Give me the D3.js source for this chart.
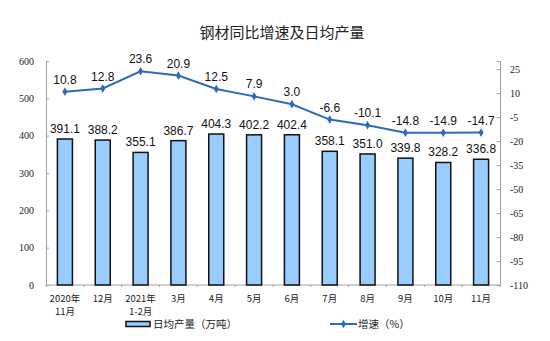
<!DOCTYPE html>
<html><head><meta charset="utf-8">
<script src="https://cdn.jsdelivr.net/npm/d3@7"></script>
<style>body{margin:0;background:#fff}svg{display:block}</style>
</head><body>
<svg id="c" width="550" height="341"></svg>
<script>
const categories = [["2020年","11月"],["12月"],["2021年","1-2月"],["3月"],["4月"],["5月"],["6月"],["7月"],["8月"],["9月"],["10月"],["11月"]];
const output = [391.1,388.2,355.1,386.7,404.3,402.2,402.4,358.1,351.0,339.8,328.2,336.8];
const growth = [10.8,12.8,23.6,20.9,12.5,7.9,3.0,-6.6,-10.1,-14.8,-14.9,-14.7];
const leftTicks = [0,100,200,300,400,500,600];
const rightTicks = [25,10,-5,-20,-35,-50,-65,-80,-95,-110];
const title = "钢材同比增速及日均产量";
const legendBar = "日均产量（万吨）";
const legendLine = "增速（%）";

const svg = d3.select("#c");
const L = 46, R = 500, T = 61, B = 285;
const xc = i => L + (i + 0.5) * (R - L) / categories.length;
const yL = d3.scaleLinear().domain([0, 600]).range([B, T]);
const yR = d3.scaleLinear().domain([-110, 30]).range([B, T]);
const lineColor = "#2b6bbf";
const serif = "'Liberation Serif','DejaVu Serif',serif";
const cjk = "'Noto Sans CJK SC',sans-serif";

svg.append("text").attr("x", 282).attr("y", 38).attr("text-anchor", "middle")
  .style("font-family", cjk).style("font-size", "15px").attr("fill", "#222").text(title);

// axes
const axL = svg.append("g").attr("transform", `translate(${L},0)`)
  .call(d3.axisLeft(yL).tickValues(leftTicks).tickSize(-3).tickPadding(12).tickFormat(d3.format("d")));
const axR = svg.append("g").attr("transform", `translate(${R},0)`)
  .call(d3.axisRight(yR).tickValues(rightTicks.concat([30])).tickSize(-3).tickPadding(10).tickFormat(d => d === 30 ? "" : d));
[axL, axR].forEach(a => {
  a.select(".domain").attr("stroke", "#a0a0a0");
  a.selectAll(".tick line").attr("stroke", "#a0a0a0");
  a.selectAll("text").style("font-family", serif).style("font-size", "10px").attr("fill", "#222");
});
svg.append("line").attr("x1", L).attr("x2", R).attr("y1", B).attr("y2", B).attr("stroke", "#a0a0a0");
svg.selectAll(".xt").data(d3.range(categories.length + 1)).enter().append("line")
  .attr("x1", i => L + i * (R - L) / categories.length).attr("x2", i => L + i * (R - L) / categories.length)
  .attr("y1", B).attr("y2", B + 2).attr("stroke", "#a0a0a0");

// x labels
const xl = svg.selectAll(".xl").data(categories).enter().append("text")
  .attr("text-anchor", "middle").style("font-family", cjk).style("font-size", "9.5px").attr("fill", "#222");
xl.each(function(d, i) {
  d3.select(this).selectAll("tspan").data(d).enter().append("tspan")
    .attr("x", xc(i)).attr("y", (t, j) => 302 + j * 13).text(t => t);
});

// bars
svg.selectAll(".bar").data(output).enter().append("rect")
  .attr("x", (d, i) => xc(i) - 7.5).attr("width", 15)
  .attr("y", d => yL(d)).attr("height", d => B - yL(d))
  .attr("fill", "#99ccff").attr("stroke", "#111").attr("stroke-width", 1.5);
svg.selectAll(".bl").data(output).enter().append("text")
  .attr("x", (d, i) => xc(i)).attr("y", d => yL(d) - 6).attr("text-anchor", "middle")
  .style("font-family", "'Liberation Sans',Arial,sans-serif").style("font-size", "12px").attr("fill", "#111")
  .text(d => d.toFixed(1));

// line
const line = d3.line().x((d, i) => xc(i)).y(d => yR(d));
svg.append("path").datum(growth).attr("d", line).attr("fill", "none").attr("stroke", lineColor).attr("stroke-width", 2);
svg.selectAll(".pt").data(growth).enter().append("path")
  .attr("d", d3.symbol().type(d3.symbolDiamond).size(22))
  .attr("transform", (d, i) => `translate(${xc(i)},${yR(d)})`).attr("fill", lineColor);
svg.selectAll(".ll").data(growth).enter().append("text")
  .attr("x", (d, i) => xc(i)).attr("y", d => yR(d) - 8).attr("text-anchor", "middle")
  .style("font-family", "'Liberation Sans',Arial,sans-serif").style("font-size", "12px").attr("fill", "#111")
  .text(d => d.toFixed(1));

// legend
svg.append("rect").attr("x", 126).attr("y", 321.5).attr("width", 24).attr("height", 5)
  .attr("fill", "#99ccff").attr("stroke", "#111").attr("stroke-width", 1.5);
svg.append("text").attr("x", 153).attr("y", 328).style("font-family", cjk).style("font-size", "10.5px").attr("fill", "#222").text(legendBar);
svg.append("line").attr("x1", 330).attr("x2", 357).attr("y1", 324).attr("y2", 324).attr("stroke", lineColor).attr("stroke-width", 2);
svg.append("path").attr("d", d3.symbol().type(d3.symbolDiamond).size(22)).attr("transform", "translate(343.5,324)").attr("fill", lineColor);
svg.append("text").attr("x", 358).attr("y", 328).style("font-family", cjk).style("font-size", "10.5px").attr("fill", "#222").text(legendLine);
</script>
</body></html>
